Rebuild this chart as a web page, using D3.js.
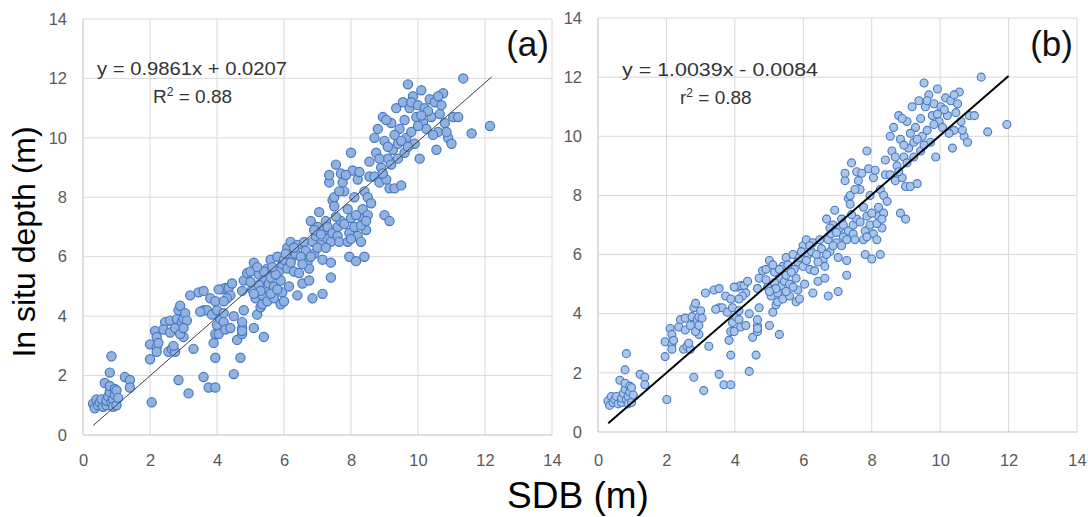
<!DOCTYPE html>
<html>
<head>
<meta charset="utf-8">
<script src="https://cdn.jsdelivr.net/npm/d3@7"></script>
<style>
  body { margin: 0; background: #fff; }
  svg { display: block; }
</style>
</head>
<body>
<script>
var w = 1088;
var h = 517;

// in situ depth (m), same ground truth for both panels
var inSituDepth = [
  1.05,0.9,1.2,1.0,1.1,1.2,0.95,1.75,1.0,1.15,1.3,1.45,1.65,2.1,2.65,1.1,1.2,0.95,1.35,1.55,1.5,1.0,1.25,1.95,1.85,1.6,
  3.05,2.55,1.1,3.5,3.3,2.95,2.8,3.1,3.8,3.55,3.45,3.85,2.8,2.9,2.8,3.0,3.6,3.9,4.2,4.35,3.8,3.9,3.3,3.4,4.1,3.85,3.6,1.85,1.4,2.9,
  4.7,4.8,4.85,4.2,4.2,4.15,4.6,4.05,4.5,1.95,1.6,1.6,2.6,3.1,3.4,3.7,3.4,4.2,3.9,4.1,3.8,4.9,4.95,4.95,5.1,4.7,4.6,4.5,4.9,3.55,3.6,4.0,2.05,3.2,2.6,
  3.4,3.6,3.8,3.5,4.2,4.85,5.2,5.45,5.5,5.8,4.9,4.6,3.6,4.05,4.3,5.4,3.3,4.4,4.7,5.2,5.6,4.95,4.5,5.1,5.3,5.9,5.0,4.6,6.0,5.5,5.2,4.8,4.4,4.5,5.05,4.85,5.5,4.75,5.4,5.65,5.65,5.15,4.75,4.9,5.75,
  5.9,6.3,5.6,5.0,6.5,6.0,5.5,6.1,6.4,4.7,5.1,6.5,6.2,5.8,5.6,5.2,7.2,6.5,4.6,6.1,6.7,7.0,7.5,6.4,5.9,4.75,6.9,7.2,6.6,6.5,5.8,5.3,6.1,6.3,6.0,5.75,6.9,6.3,6.75,7.0,5.8,5.45,6.0,6.3,6.8,
  8.5,8.75,7.9,8.0,7.7,9.1,7.0,6.7,6.5,7.2,8.8,8.5,8.2,7.1,6.5,6.0,6.8,7.3,9.5,8.9,8.0,7.0,5.85,8.6,6.7,6.5,7.3,7.6,6.0,8.2,6.9,7.4,8.0,9.2,7.8,7.35,8.75,7.6,6.6,7.4,8.85,7.05,7.2,8.7,8.2,
  8.7,10.0,9.5,10.3,8.5,9.0,10.7,9.9,7.4,8.6,9.3,7.2,8.3,10.5,9.6,8.3,11.0,9.8,10.3,8.4,11.2,9.5,10.0,11.8,11.0,10.2,11.4,9.8,10.7,9.3,8.8,10.6,9.7,9.1,10.1,9.3,9.9,10.6,9.7,11.2,
  11.1,9.3,11.6,10.5,11.0,10.3,11.3,10.7,11.2,9.6,10.2,10.8,11.1,11.5,10.5,10.0,9.8,10.7,10.7,12.0,10.15,10.4,10.4,10.9,10.1,11.4,10.2,10.75
];

// SDB (m), panel (a)
var sdbA = [
  0.3,0.35,0.4,0.45,0.5,0.55,0.6,0.65,0.7,0.7,0.75,0.8,0.8,0.8,0.85,0.85,0.9,0.9,0.95,0.95,1.0,1.0,1.05,1.25,1.4,1.4,
  2.0,2.0,2.05,2.15,2.2,2.2,2.2,2.25,2.45,2.4,2.6,2.6,2.55,2.65,2.75,2.7,2.75,2.8,2.85,2.9,2.95,3.0,3.0,2.9,3.05,3.1,3.0,2.85,3.15,3.3,
  3.2,3.45,3.6,3.6,3.7,3.5,3.8,3.85,3.95,3.6,3.75,3.95,3.95,3.9,3.95,4.0,4.05,4.0,4.1,4.2,4.2,4.15,4.25,4.35,4.45,4.4,4.3,4.2,4.05,4.25,4.4,4.5,4.5,4.6,4.7,
  4.75,4.75,4.75,4.75,4.8,4.75,4.8,4.9,5.0,5.1,5.05,5.15,5.1,5.2,5.3,5.25,5.4,5.35,5.35,5.4,5.5,5.45,5.5,5.55,5.6,5.6,5.7,5.7,5.8,5.85,5.9,5.95,5.9,6.0,5.25,5.3,5.4,5.6,5.75,5.65,5.2,5.0,5.1,5.8,5.95,
  6.0,6.1,6.1,6.15,6.2,6.25,6.3,6.35,6.4,6.4,6.55,6.6,6.65,6.7,6.75,6.75,6.8,6.85,6.85,6.9,6.95,7.0,7.05,7.1,7.15,7.15,7.2,7.25,7.3,7.4,7.4,7.4,6.05,6.3,6.5,6.55,6.9,7.0,7.1,7.3,6.2,6.45,6.8,7.25,7.45,
  7.35,7.35,7.45,7.5,7.5,7.55,7.6,7.6,7.65,7.7,7.7,7.75,7.8,7.8,7.9,7.95,7.95,8.0,8.0,8.05,8.1,8.1,8.15,8.2,8.2,8.3,8.35,8.35,8.4,8.4,8.45,8.5,8.5,8.55,8.6,7.55,7.85,7.9,8.0,8.15,8.25,8.3,8.45,8.55,7.65,
  8.7,8.7,8.75,8.8,8.85,8.9,8.95,9.0,9.0,9.05,9.1,9.15,9.15,9.2,9.25,9.3,9.35,9.4,9.45,9.5,9.55,9.6,9.65,9.7,9.75,9.8,9.85,9.9,9.95,8.85,8.95,9.05,9.1,9.2,9.3,9.4,9.5,9.6,9.7,9.8,
  10.0,10.05,10.1,10.15,10.2,10.25,10.35,10.4,10.5,10.55,10.6,10.65,10.7,10.75,10.8,10.9,11.0,11.05,11.2,11.35,11.6,12.15,10.0,10.3,10.45,10.6,10.85,10.1
];

// SDB (m), panel (b)
var sdbB = [
  0.29,0.34,0.39,0.44,0.49,0.54,0.59,0.64,0.69,0.69,0.74,0.79,0.79,0.79,0.83,0.83,0.88,0.88,0.93,0.93,0.98,0.98,1.03,1.23,1.37,1.37,
  1.96,1.96,2.01,2.11,2.16,2.16,2.16,2.21,2.41,2.36,2.55,2.55,2.5,2.6,2.7,2.65,2.7,2.75,2.8,2.85,2.9,2.95,2.95,2.85,3.0,3.04,2.95,2.8,3.09,3.24,
  3.14,3.39,3.54,3.54,3.63,3.44,3.73,3.78,3.88,3.54,3.68,3.88,3.88,3.83,3.88,3.93,3.98,3.93,4.03,4.12,4.12,4.08,4.17,4.27,4.37,4.32,4.22,4.12,3.98,4.17,4.32,4.42,4.42,4.52,4.62,
  4.66,4.66,4.66,4.66,4.71,4.66,4.71,4.81,4.91,5.01,4.96,5.06,5.01,5.11,5.2,5.16,5.3,5.25,5.25,5.3,5.4,5.35,5.4,5.45,5.5,5.5,5.6,5.6,5.7,5.74,5.79,5.84,5.79,5.89,5.16,5.2,5.3,5.5,5.65,5.55,5.11,4.91,5.01,5.7,5.84,
  5.89,5.99,5.99,6.04,6.09,6.14,6.19,6.24,6.28,6.28,6.43,6.48,6.53,6.58,6.63,6.63,6.68,6.73,6.73,6.78,6.82,6.87,6.92,6.97,7.02,7.02,7.07,7.12,7.17,7.27,7.27,7.27,5.94,6.19,6.38,6.43,6.78,6.87,6.97,7.17,6.09,6.33,6.68,7.12,7.32,
  7.22,7.22,7.32,7.37,7.37,7.41,7.46,7.46,7.51,7.56,7.56,7.61,7.66,7.66,7.76,7.81,7.81,7.86,7.86,7.91,7.95,7.95,8.0,8.05,8.05,8.15,8.2,8.2,8.25,8.25,8.3,8.35,8.35,8.4,8.45,7.41,7.71,7.76,7.86,8.0,8.1,8.15,8.3,8.4,7.51,
  8.54,8.54,8.59,8.64,8.69,8.74,8.79,8.84,8.84,8.89,8.94,8.99,8.99,9.03,9.08,9.13,9.18,9.23,9.28,9.33,9.38,9.43,9.48,9.53,9.57,9.62,9.67,9.72,9.77,8.69,8.79,8.89,8.94,9.03,9.13,9.23,9.33,9.43,9.53,9.62,
  9.82,9.87,9.92,9.97,10.02,10.07,10.16,10.21,10.31,10.36,10.41,10.46,10.51,10.56,10.61,10.7,10.8,10.85,11.0,11.2,11.39,11.95,9.82,10.12,10.26,10.41,10.65,9.92
];

var axisTicks = [0, 2, 4, 6, 8, 10, 12, 14];

var panels = [
  { sdb: sdbA, left: 83, right: 552, top: 19, bottom: 435, label: "(a)",
    eq: "y = 0.9861x + 0.0207", eqLen: 190, rName: "R", rVal: " = 0.88", rLen: 81,
    slope: 0.9861, icpt: 0.0207, fitFrom: 0.3, fitTo: 12.2,
    eqX: 97, eqY: 75, rX: 153, rY: 103, labelX: 549, r: 4.6, sw: 1.2,
    fill: "#8fb2e0", lineColor: "#404040", lineW: 1 },
  { sdb: sdbB, left: 598, right: 1077, top: 18, bottom: 432, label: "(b)",
    eq: "y = 1.0039x - 0.0084", eqLen: 196, rName: "r", rVal: " = 0.88", rLen: 80,
    slope: 1.0039, icpt: -0.0084, fitFrom: 0.3, fitTo: 12.0,
    eqX: 622, eqY: 76, rX: 680, rY: 104, labelX: 1073, r: 4.0, sw: 1.1,
    fill: "#a8c6ec", lineColor: "#000", lineW: 2 }
];

var svg = d3.select("body")
    .append("svg")
    .attr("width", w)
    .attr("height", h);

panels.forEach(function (p) {
    var xScale = d3.scaleLinear().domain([0, 14]).range([p.left, p.right]);
    var yScale = d3.scaleLinear().domain([0, 14]).range([p.bottom, p.top]);

    var g = svg.append("g");

    // gridlines
    g.selectAll("line.vgrid")
        .data(axisTicks)
        .join("line")
        .attr("x1", d => xScale(d)).attr("x2", d => xScale(d))
        .attr("y1", p.top).attr("y2", p.bottom)
        .attr("stroke", d => d == 0 ? "#bfbfbf" : "#d9d9d9")
        .attr("stroke-width", 1);
    g.selectAll("line.hgrid")
        .data(axisTicks)
        .join("line")
        .attr("x1", p.left).attr("x2", p.right)
        .attr("y1", d => yScale(d)).attr("y2", d => yScale(d))
        .attr("stroke", d => d == 0 ? "#bfbfbf" : "#d9d9d9")
        .attr("stroke-width", 1);

    var xAxis = d3.axisBottom(xScale).tickValues(axisTicks).tickSize(0).tickPadding(454 - p.bottom);
    var yAxis = d3.axisLeft(yScale).tickValues(axisTicks).tickSize(0).tickPadding(16);

    var gx = g.append("g")
        .attr("transform", "translate(0," + p.bottom + ")")
        .call(xAxis);
    var gy = g.append("g")
        .attr("transform", "translate(" + p.left + ",0)")
        .call(yAxis);
    [gx, gy].forEach(function (a) {
        a.select(".domain").remove();
        a.selectAll("text")
            .attr("fill", "#595959")
            .attr("font-family", "'Liberation Sans Narrow', 'Liberation Sans', sans-serif")
            .attr("font-size", "16.5px");
    });

    // points
    g.selectAll("circle")
        .data(inSituDepth)
        .join("circle")
        .attr("cx", (d, i) => xScale(p.sdb[i]))
        .attr("cy", d => yScale(d))
        .attr("r", p.r)
        .attr("fill", p.fill)
        .attr("stroke", "#4a78c0")
        .attr("stroke-width", p.sw);

    // trendline
    g.append("line")
        .attr("x1", xScale(p.fitFrom))
        .attr("y1", yScale(p.slope * p.fitFrom + p.icpt))
        .attr("x2", xScale(p.fitTo))
        .attr("y2", yScale(p.slope * p.fitTo + p.icpt))
        .attr("stroke", p.lineColor)
        .attr("stroke-width", p.lineW);

    // equation
    g.append("text")
        .attr("x", p.eqX).attr("y", p.eqY)
        .attr("font-family", "'Liberation Sans', Arial, sans-serif")
        .attr("font-size", "19px")
        .attr("textLength", p.eqLen)
        .attr("lengthAdjust", "spacingAndGlyphs")
        .attr("fill", "#333")
        .text(p.eq);
    var rt = g.append("text")
        .attr("x", p.rX).attr("y", p.rY)
        .attr("font-family", "'Liberation Sans', Arial, sans-serif")
        .attr("font-size", "19px")
        .attr("fill", "#333");
    rt.append("tspan").text(p.rName);
    rt.append("tspan").attr("dy", "-7").attr("font-size", "12px").text("2");
    rt.append("tspan").attr("dy", "7").text(p.rVal);

    // panel label
    g.append("text")
        .attr("x", p.labelX).attr("y", 56)
        .attr("text-anchor", "end")
        .attr("font-family", "'Liberation Sans', Arial, sans-serif")
        .attr("font-size", "35px")
        .attr("fill", "#111")
        .text(p.label);
});

// axis titles
svg.append("text")
    .attr("transform", "translate(35,242) rotate(-90)")
    .attr("text-anchor", "middle")
    .attr("font-family", "'Liberation Sans', Arial, sans-serif")
    .attr("font-size", "32px")
    .attr("fill", "#000")
    .text("In situ depth (m)");

svg.append("text")
    .attr("x", 578).attr("y", 508)
    .attr("text-anchor", "middle")
    .attr("font-family", "'Liberation Sans', Arial, sans-serif")
    .attr("font-size", "37px")
    .attr("fill", "#000")
    .text("SDB (m)");
</script>
</body>
</html>
